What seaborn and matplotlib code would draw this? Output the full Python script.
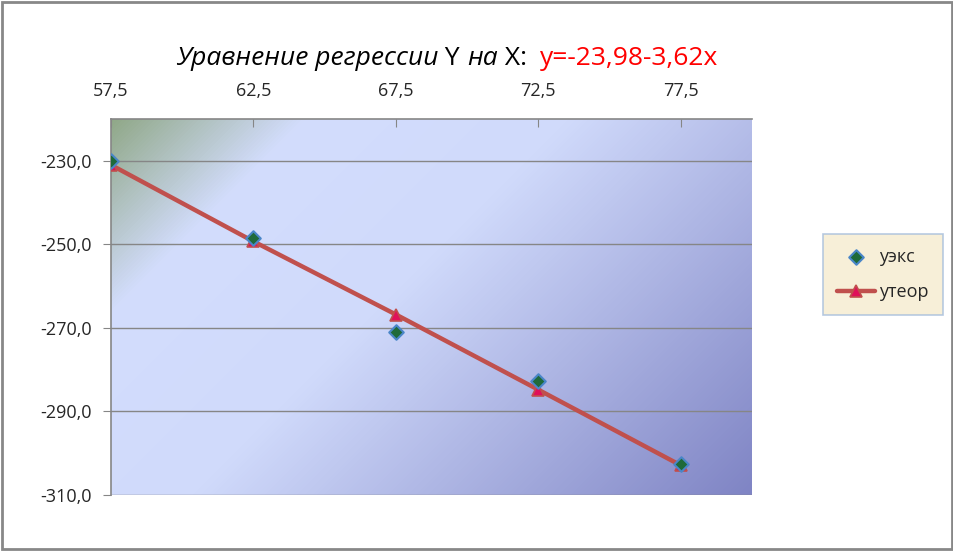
import numpy as np
import pandas as pd
import matplotlib.pyplot as plt
import seaborn as sns
from matplotlib.colors import LinearSegmentedColormap
from matplotlib.patches import Rectangle

# values
x_vals = [57.5, 62.5, 67.5, 72.5, 77.5]
y_exp = [-230.0, -248.6, -271.0, -282.6, -302.6]
y_teor = [-231.0, -249.3, -266.8, -284.8, -302.9]
x_ticks = [57.5, 62.5, 67.5, 72.5, 77.5]
y_ticks = [-230, -250, -270, -290, -310]
series_names = ["уэкс", "утеор"]

df = pd.DataFrame({"x": x_vals, "exp": y_exp, "teor": y_teor})

sns.set_style("white")
plt.rcParams["font.family"] = ["Open Sans", "DejaVu Sans"]

fig = plt.figure(figsize=(9.54, 5.51), dpi=100)
ax = fig.add_axes([111 / 954, 1 - 495 / 551, (752 - 111) / 954, (495 - 119) / 551])

x0, x1, y0, y1 = 57.5, 80.0, -310, -220

# plot area gradient: greenish corner -> light blue -> darker blue-violet
W, H = 641, 376
px, py = np.meshgrid(np.arange(W), np.arange(H))
t = (px + py) / (W + H)
cmap = LinearSegmentedColormap.from_list(
    "bg", [(0.0, "#90a888"), (0.19, "#d3ddfd"), (0.45, "#d0dafb"), (1.0, "#7f84c4")])
ax.imshow(cmap(t), extent=[x0, x1, y0, y1], aspect="auto", zorder=0, interpolation="bilinear")

for yt in y_ticks:
    ax.axhline(yt, color="#868686", lw=1, zorder=1)

sns.lineplot(data=df, x="x", y="teor", ax=ax, color="#c0504d", lw=3.2, zorder=3,
             marker="^", markersize=8, markerfacecolor="#e0105a",
             markeredgecolor="#c0504d", markeredgewidth=1.2, label=series_names[1])
sns.scatterplot(data=df, x="x", y="exp", ax=ax, marker="D", s=55, color="#1f6a3a",
                edgecolor="#4a86c8", linewidth=1.5, zorder=4, label=series_names[0])

ax.set_xlim(x0, x1)
ax.set_ylim(y0, y1)
ax.set_xticks(x_ticks)
ax.set_xticklabels([f"{v:.1f}".replace(".", ",") for v in x_ticks])
ax.set_yticks(y_ticks)
ax.set_yticklabels([f"{v:.1f}".replace(".", ",") for v in y_ticks])
ax.xaxis.tick_top()
ax.tick_params(axis="x", direction="in", length=6, color="#868686", pad=14, labelsize=13)
ax.tick_params(axis="y", direction="out", length=6, color="#868686", pad=8, labelsize=13, left=True)
ax.set_xlabel("")
ax.set_ylabel("")
for side in ["right", "bottom"]:
    ax.spines[side].set_visible(False)
for side in ["left", "top"]:
    ax.spines[side].set_color("#868686")
    ax.spines[side].set_linewidth(1.2)
ax.set_axisbelow(False)

h, l = ax.get_legend_handles_labels()
ax.get_legend().remove()
order = [l.index(series_names[0]), l.index(series_names[1])]
leg = fig.legend([h[i] for i in order], [l[i] for i in order], loc="center",
                 bbox_to_anchor=(883 / 954, 1 - 274.5 / 551), fontsize=13,
                 frameon=True, fancybox=False, handlelength=2.1, labelspacing=0.95,
                 borderpad=0.75, handletextpad=0.25, borderaxespad=0)
leg.get_frame().set_facecolor("#f6ebcf")
leg.get_frame().set_edgecolor("#a6bedc")
leg.get_frame().set_linewidth(1.2)

# outer chart frame
fig.patches.append(Rectangle((2 / 954, 2 / 551), 950 / 954, 547 / 551, transform=fig.transFigure,
                             fill=False, edgecolor="#888888", lw=2))

# title built from pieces (italic / upright / red)
fig.canvas.draw()
r = fig.canvas.get_renderer()
pieces = [("Уравнение регрессии", "italic", "black"), (" Y ", "normal", "black"),
          ("на", "italic", "black"), (" X:  ", "normal", "black"),
          ("y=-23,98-3,62x", "normal", "#ff0000")]
xp = 176 / 954
for s, st, c in pieces:
    txt = fig.text(xp, 1 - 65 / 551, s, fontsize=19, style=st, color=c, va="baseline", ha="left")
    bb = txt.get_window_extent(r)
    xp = bb.x1 / fig.bbox.width

fig.savefig("out.png", dpi=100)
